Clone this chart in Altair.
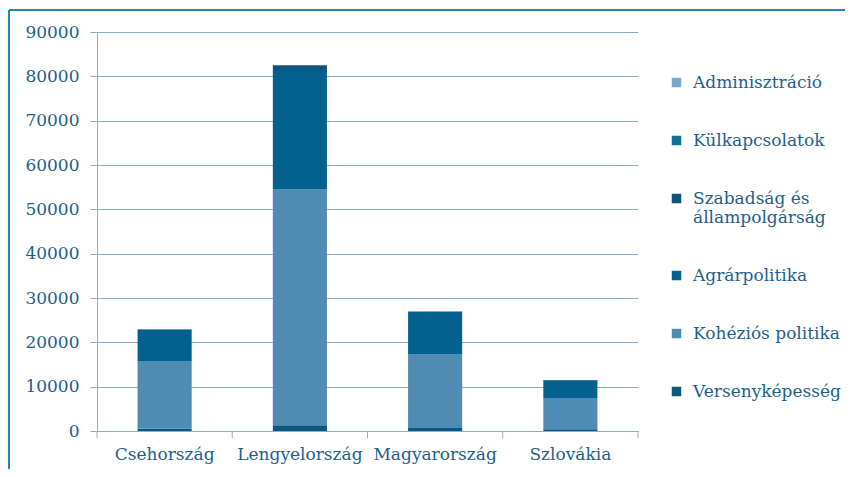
import altair as alt
import pandas as pd

countries = ["Csehország", "Lengyelország", "Magyarország", "Szlovákia"]
categories = ["Versenyképesség", "Kohéziós politika", "Agrárpolitika",
              "Szabadság és állampolgárság", "Külkapcsolatok", "Adminisztráció"]
versenykepesseg = [500, 1300, 680, 380]
kohezios = [15300, 53150, 16600, 7060]
agrar = [7070, 26750, 9550, 4000]
szabadsag = [100, 1300, 100, 50]
kulkapcsolatok = [0, 0, 0, 0]
adminisztracio = [0, 0, 0, 0]
series = [versenykepesseg, kohezios, agrar, szabadsag, kulkapcsolatok, adminisztracio]
colors = ["#0d5680", "#4f8bb3", "#03618f", "#0b5580", "#0f6f99", "#7aa8cc"]

rows = []
for ci, cat in enumerate(categories):
    for k, c in enumerate(countries):
        rows.append({"orszag": c, "kategoria": cat, "ertek": series[ci][k], "rend": ci})
df = pd.DataFrame(rows)

legend_order = categories[::-1]
legend_colors = colors[::-1]

FONT = "DejaVu Serif"
TXT = "#1d5f8c"
GRID = "#86afd0"
FS = 17

xscale = alt.Scale(domain=countries, paddingInner=0, paddingOuter=0)

bars = alt.Chart(df).mark_bar(width=alt.RelativeBandSize(0.4)).encode(
    x=alt.X("orszag:N", scale=xscale, sort=countries,
            axis=alt.Axis(title=None, labelAngle=0, ticks=False, domain=True,
                          domainColor=GRID, labelFont=FONT, labelFontSize=FS,
                          labelColor=TXT, labelPadding=15, grid=False)),
    y=alt.Y("ertek:Q", stack="zero",
            scale=alt.Scale(domain=[0, 90000], nice=False),
            axis=alt.Axis(title=None, values=list(range(0, 90001, 10000)), format="d",
                          grid=True, gridColor=GRID, domainColor=GRID,
                          tickColor=GRID, tickSize=7, labelPadding=11,
                          labelFont=FONT, labelFontSize=FS, labelColor=TXT)),
    color=alt.Color("kategoria:N",
                    scale=alt.Scale(domain=legend_order, range=legend_colors),
                    legend=alt.Legend(title=None, orient="none", legendX=571, legendY=42,
                                      symbolType="square", symbolSize=90,
                                      symbolStrokeWidth=0,
                                      labelFont=FONT, labelFontSize=FS, labelColor=TXT,
                                      labelOffset=8, rowPadding=40, padding=0,
                                      labelLimit=300,
                                      labelExpr="indexof(datum.label, 'és ') > 0 ? [substring(datum.label, 0, indexof(datum.label, 'és ') + 2), substring(datum.label, indexof(datum.label, 'és ') + 3)] : datum.label")),
    order=alt.Order("rend:Q", sort="ascending"),
)

tick_df = pd.DataFrame({"orszag": countries})
xticks_left = alt.Chart(tick_df).mark_rule(color=GRID, strokeWidth=1).encode(
    x=alt.X("orszag:N", scale=xscale, sort=countries, bandPosition=0),
    y=alt.value(399), y2=alt.value(406))
xticks_right = alt.Chart(tick_df.iloc[[-1]]).mark_rule(color=GRID, strokeWidth=1).encode(
    x=alt.X("orszag:N", scale=xscale, sort=countries, bandPosition=1),
    y=alt.value(399), y2=alt.value(406))

frame_top = alt.Chart(tick_df.iloc[[0]]).mark_rule(color="#2189b4", strokeWidth=2).encode(
    x=alt.value(-88), x2=alt.value(760), y=alt.value(-22))
frame_left = alt.Chart(tick_df.iloc[[0]]).mark_rule(color="#2189b4", strokeWidth=2).encode(
    x=alt.value(-88), y=alt.value(-22), y2=alt.value(440))

chart = alt.layer(bars, xticks_left, xticks_right, frame_top, frame_left).properties(
    width=541, height=399,
    autosize=alt.AutoSizeParams(type="none"),
    padding={"left": 89, "top": 24, "right": 207, "bottom": 38},
).configure(background="white").configure_view(strokeWidth=0, stroke="transparent")

chart.save("out.html", embed_options={"renderer": "svg", "actions": False})
